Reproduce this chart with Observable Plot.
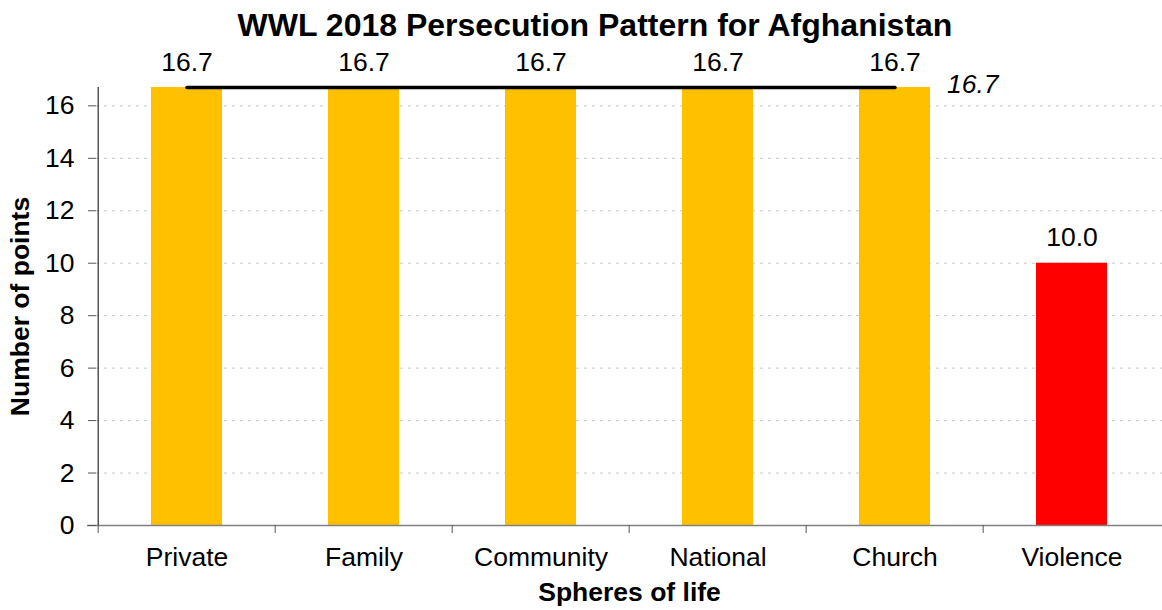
<!DOCTYPE html>
<html>
<head>
<meta charset="utf-8">
<script src="https://cdn.jsdelivr.net/npm/d3@7"></script>
<script src="https://cdn.jsdelivr.net/npm/@observablehq/plot@0.6"></script>
<style>
  body { margin: 0; background: #fff; font-family: "Liberation Sans", Arial, sans-serif; }
  #title {
    width: 1162px; height: 48px; box-sizing: border-box;
    padding: 3px 0 0 28px; line-height: 45px;
    text-align: center; font-size: 32px; font-weight: bold; color: #000; white-space: nowrap;
  }
</style>
</head>
<body>
<div id="title"></div>
<div id="chart"></div>
<script>
// Persecution pattern: points per sphere of life
const titleText = "WWL 2018 Persecution Pattern for Afghanistan";
const spheres = ["Private", "Family", "Community", "National", "Church", "Violence"];
const points = [16.7, 16.7, 16.7, 16.7, 16.7, 10.0];
const yTicks = [0, 2, 4, 6, 8, 10, 12, 14, 16];
const yLabel = "Number of points";
const xLabel = "Spheres of life";

document.getElementById("title").textContent = titleText;

const data = spheres.map((sphere, i) => ({sphere, value: points[i]}));
// the five pressure spheres share an average line; violence stands apart
const pressure = data.filter(d => d.sphere !== "Violence");
const average = d3.mean(pressure, d => d.value);
const fmt = d3.format(".1f");

const width = 1162, height = 562;
const marginLeft = 96, marginRight = 0, marginTop = 39, marginBottom = 85;
const halfStep = (width - marginLeft - marginRight) / spheres.length / 2;
const labelSize = 26.5;

const chart = Plot.plot({
  width, height, marginLeft, marginRight, marginTop, marginBottom,
  style: {
    fontFamily: "'Liberation Sans', Arial, sans-serif",
    fontSize: `${labelSize}px`,
    color: "#000",
    background: "#fff",
    overflow: "visible"
  },
  x: {domain: spheres, paddingInner: 0.6, paddingOuter: 0.3},
  y: {domain: [0, d3.max(points)]},
  marks: [
    // dotted horizontal gridlines
    Plot.ruleY(yTicks.filter(t => t > 0), {stroke: "#c8c8c8", strokeDasharray: "3,5"}),
    // bars
    Plot.barY(data, {
      x: "sphere", y: "value",
      fill: d => d.sphere === "Violence" ? "#ff0000" : "#ffc000"
    }),
    // baseline
    Plot.ruleY([0], {stroke: "#808080", strokeWidth: 1.5, insetLeft: -9}),
    // vertical axis line at the left edge of the first band
    Plot.ruleX([spheres[0]], {x: d => d, dx: -halfStep, y1: 0, y2: d3.max(points), stroke: "#000"}),
    Plot.axisY(yTicks, {tickSize: 8, tickPadding: 14, stroke: "#555", fontSize: labelSize, label: null}),
    // x tick marks between categories
    Plot.axisX(spheres, {tickSize: 8, dx: -halfStep, stroke: "#555", fill: "none", label: null}),
    // category names
    Plot.axisX({tickSize: 0, tickPadding: 22, fontSize: labelSize, label: null}),
    // average line across the pressure spheres
    Plot.lineY(pressure, {x: "sphere", y: () => average, stroke: "#000", strokeWidth: 3.5}),
    // value labels
    Plot.text(data, {
      x: "sphere", y: "value", text: d => fmt(d.value),
      lineAnchor: "bottom", dy: -17, fontSize: labelSize
    }),
    Plot.text([average], {
      x: () => pressure[pressure.length - 1].sphere, y: d => d, text: d => fmt(d),
      textAnchor: "start", dx: 52, dy: -3, fontStyle: "italic", fontSize: labelSize
    }),
    // axis titles
    Plot.text([yLabel], {
      frameAnchor: "left", text: d => d, rotate: -90, dx: -76, textAnchor: "middle",
      fontWeight: "bold", fontSize: 26.5
    }),
    Plot.text([xLabel], {
      frameAnchor: "bottom", text: d => d, lineAnchor: "bottom", dy: 75, textAnchor: "middle",
      fontWeight: "bold", fontSize: 26.5
    })
  ]
});

document.getElementById("chart").appendChild(chart);
</script>
</body>
</html>
